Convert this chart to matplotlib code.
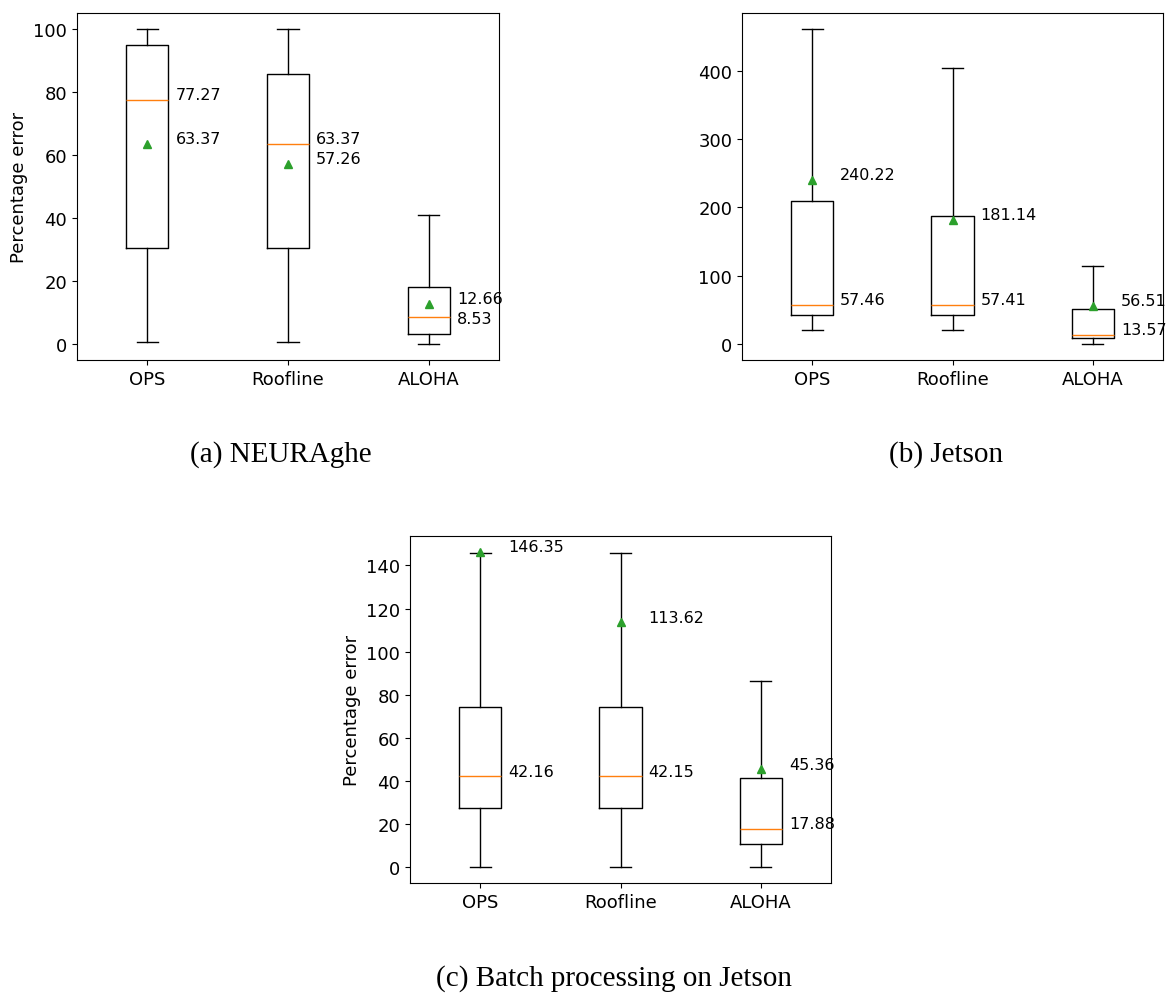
import matplotlib.pyplot as plt

plt.rcParams['font.family'] = 'DejaVu Sans'

methods = ['OPS', 'Roofline', 'ALOHA']

# (a) NEURAghe
neur_low = [0.6, 0.6, 0.0]
neur_q1 = [30.5, 30.5, 3.2]
neur_med = [77.27, 63.37, 8.53]
neur_q3 = [94.9, 85.7, 18.1]
neur_high = [100.0, 100.0, 41.0]
neur_mean = [63.37, 57.26, 12.66]

# (b) Jetson
jet_low = [20.4, 20.4, 0.0]
jet_q1 = [42.3, 42.3, 8.8]
jet_med = [57.46, 57.41, 13.57]
jet_q3 = [208.8, 186.9, 51.0]
jet_high = [461.0, 403.0, 113.9]
jet_mean = [240.22, 181.14, 56.51]

# (c) Batch processing on Jetson
bat_low = [0.0, 0.0, 0.0]
bat_q1 = [27.4, 27.4, 10.7]
bat_med = [42.16, 42.15, 17.88]
bat_q3 = [74.4, 74.4, 41.4]
bat_high = [145.6, 145.6, 86.5]
bat_mean = [146.35, 113.62, 45.36]


def make_stats(low, q1, med, q3, high, mean):
    stats = []
    for i in range(len(methods)):
        stats.append({'whislo': low[i], 'q1': q1[i], 'med': med[i], 'q3': q3[i],
                      'whishi': high[i], 'mean': mean[i], 'fliers': [], 'label': methods[i]})
    return stats


fig = plt.figure(figsize=(11.66, 9.95), dpi=100)
W, H = 1166.0, 995.0

ax1 = fig.add_axes([77 / W, 1 - 361 / H, 422 / W, 347 / H])
ax2 = fig.add_axes([742 / W, 1 - 361 / H, 421 / W, 347 / H])
ax3 = fig.add_axes([410 / W, 1 - 884 / H, 421 / W, 347 / H])

fs = 11.5

# (a)
st = make_stats(neur_low, neur_q1, neur_med, neur_q3, neur_high, neur_mean)
ax1.bxp(st, showmeans=True, showfliers=False)
ax1.tick_params(labelsize=13)
ax1.set_ylabel('Percentage error', fontsize=13)
for i in range(3):
    x = i + 1.2
    if i == 2:
        ax1.text(x, neur_med[i] - 0.3, '%.2f' % neur_med[i], fontsize=fs, va='center')
    else:
        ax1.text(x, neur_med[i] + 1.75, '%.2f' % neur_med[i], fontsize=fs, va='center')
    ax1.text(x, neur_mean[i] + 1.75, '%.2f' % neur_mean[i], fontsize=fs, va='center')

# (b)
st = make_stats(jet_low, jet_q1, jet_med, jet_q3, jet_high, jet_mean)
ax2.bxp(st, showmeans=True, showfliers=False)
ax2.tick_params(labelsize=13)
for i in range(3):
    x = i + 1.2
    ax2.text(x, jet_med[i] + 8, '%.2f' % jet_med[i], fontsize=fs, va='center')
    ax2.text(x, jet_mean[i] + 8, '%.2f' % jet_mean[i], fontsize=fs, va='center', clip_on=False)

# (c)
st = make_stats(bat_low, bat_q1, bat_med, bat_q3, bat_high, bat_mean)
ax3.bxp(st, showmeans=True, showfliers=False)
ax3.tick_params(labelsize=13)
ax3.set_ylabel('Percentage error', fontsize=13)
for i in range(3):
    x = i + 1.2
    ax3.text(x, bat_med[i] + 2.4, '%.2f' % bat_med[i], fontsize=fs, va='center')
    ax3.text(x, bat_mean[i] + 2.4, '%.2f' % bat_mean[i], fontsize=fs, va='center')

cap = dict(fontsize=21, family='Liberation Serif', ha='center', va='center')
fig.text(281 / W, 1 - 455 / H, '(a) NEURAghe', **cap)
fig.text(946 / W, 1 - 455 / H, '(b) Jetson', **cap)
fig.text(614 / W, 1 - 979 / H, '(c) Batch processing on Jetson', **cap)

fig.savefig('out.png', dpi=100)
